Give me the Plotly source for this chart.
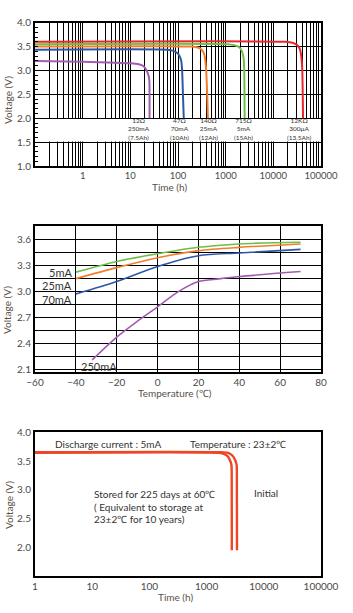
import math
import plotly.graph_objects as go

# ---------------- Chart 1: discharge curves vs time ----------------
c1_names = ["12Ω", "47Ω", "140Ω", "715Ω", "12KΩ"]
c1_colors = ["#a35bb0", "#2d57a5", "#f47d2c", "#6cbf45", "#e8272c"]
c1_x = [
    [0.1, 1, 5, 10, 15, 19, 22, 24, 25, 25.3],
    [0.1, 60, 80, 95, 108, 117, 122, 127, 132],
    [0.1, 200, 260, 310, 350, 370, 390, 410, 425],
    [0.1, 1100, 1500, 1900, 2200, 2380, 2450, 2500],
    [0.1, 18000, 25000, 32000, 36500, 39000, 40500, 42000],
]
c1_y = [
    [3.2, 3.18, 3.16, 3.15, 3.13, 3.09, 3.0, 2.9, 2.8, 2.0],
    [3.435, 3.435, 3.41, 3.37, 3.3, 3.2, 3.0, 2.5, 2.0],
    [3.5, 3.5, 3.48, 3.44, 3.36, 3.25, 3.0, 2.5, 2.0],
    [3.55, 3.55, 3.53, 3.49, 3.4, 3.25, 3.0, 2.0],
    [3.6, 3.6, 3.58, 3.53, 3.43, 3.25, 3.0, 2.0],
]
c1_label_x = [15, 110, 445, 2400, 34300]
c1_label_res = ["12Ω", "47Ω", "140Ω", "715Ω", "12KΩ"]
c1_label_cur = ["250mA", "70mA", "25mA", "5mA", "300μA"]
c1_label_cap = ["(7.5Ah)", "(10Ah)", "(12Ah)", "(15Ah)", "(13.5Ah)"]
c1_xticks = [1, 10, 100, 1000, 10000, 100000]
c1_yticks = [1.0, 1.5, 2.0, 2.5, 3.0, 3.5, 4.0]

# ---------------- Chart 2: voltage vs temperature ----------------
c2_names = ["5mA", "25mA", "70mA", "250mA"]
c2_colors = ["#6cbf45", "#f47d2c", "#2d57a5", "#a35bb0"]
c2_x = [
    [-40, -20, 0, 20, 40, 70],
    [-40, -20, 0, 20, 40, 70],
    [-40, -20, 0, 20, 40, 70],
    [-32, -20, -10, 0, 10, 20, 30, 40, 70],
]
c2_y = [
    [3.228, 3.351, 3.44, 3.514, 3.553, 3.572],
    [3.153, 3.28, 3.394, 3.476, 3.514, 3.553],
    [2.976, 3.12, 3.293, 3.417, 3.449, 3.49],
    [2.216, 2.479, 2.66, 2.828, 3.0, 3.119, 3.15, 3.177, 3.235],
]
c2_label_y = [3.223, 3.072, 2.917]
c2_xticks = [-60, -40, -20, 0, 20, 40, 60, 80]
c2_ygrid = [2.1, 2.25, 2.4, 2.55, 2.7, 2.85, 3.0, 3.15, 3.3, 3.45, 3.6]
c2_ylabels = ["2.1", "", "2.4", "", "2.7", "", "3.0", "", "3.3", "", "3.6"]

# ---------------- Chart 3: storage characteristics ----------------
c3_names = ["Stored", "Initial"]
c3_x = [
    [1, 1600, 1950, 2300, 2570, 2720, 2750, 2760],
    [1, 1800, 2300, 2800, 3150, 3350, 3380, 3400],
]
c3_y = [
    [3.645, 3.645, 3.63, 3.59, 3.51, 3.43, 3.2, 1.95],
    [3.655, 3.655, 3.645, 3.6, 3.52, 3.43, 3.2, 1.95],
]
c3_xticks = [1, 10, 100, 1000, 10000, 100000]
c3_yticks = [2.0, 2.5, 3.0, 3.5, 4.0]

FONT = "Lato"
TICKC = "#4a4a4a"
TITLEC = "#5a5048"
W, H = 353, 613

fig = go.Figure()

for xs, ys, c, n in zip(c1_x, c1_y, c1_colors, c1_names):
    fig.add_trace(go.Scatter(x=xs, y=ys, mode="lines", name=n, xaxis="x", yaxis="y",
                             line=dict(color=c, width=2, shape="spline", smoothing=0.6)))
for xs, ys, c, n in zip(c2_x, c2_y, c2_colors, c2_names):
    fig.add_trace(go.Scatter(x=xs, y=ys, mode="lines", name=n, xaxis="x2", yaxis="y2",
                             line=dict(color=c, width=1.6, shape="spline", smoothing=0.8)))
for xs, ys, n in zip(c3_x, c3_y, c3_names):
    fig.add_trace(go.Scatter(x=xs, y=ys, mode="lines", name=n, xaxis="x3", yaxis="y3",
                             line=dict(color="#ee4526", width=2.4, shape="spline", smoothing=0.6)))

xdom = [35 / W, 321 / W]
def ydom(top, bot):
    return [1 - bot / H, 1 - top / H]

# minor gridline values for log chart 1
c1_grid = []
for e in range(-1, 5):
    for m in range(1, 10):
        c1_grid.append(m * 10 ** e)
c1_grid.append(100000)
c1_gridtext = [str(v) if v in c1_xticks else "" for v in c1_grid]

common_tick = dict(family=FONT, size=10, color=TICKC)

fig.update_layout(
    width=W, height=H, margin=dict(l=0, r=0, t=0, b=0, autoexpand=False),
    paper_bgcolor="white", plot_bgcolor="white", showlegend=False,
    font=dict(family=FONT, color=TICKC),
    xaxis=dict(domain=xdom, anchor="y", type="log", range=[-1, 5], automargin=False,
               tickvals=c1_grid, ticktext=c1_gridtext, showgrid=True, gridcolor="black",
               gridwidth=1.2, showline=True, linecolor="black", linewidth=2, mirror=True,
               ticks="", tickfont=dict(family=FONT, size=9.5, color=TICKC), zeroline=False),
    yaxis=dict(domain=ydom(22.7, 166), anchor="x", range=[1.0, 4.0], tickvals=c1_yticks,
               automargin=False,
               ticktext=["%.1f" % v for v in c1_yticks], showgrid=True, gridcolor="black",
               gridwidth=1.2, showline=True, linecolor="black", linewidth=2, mirror=True,
               ticks="", tickfont=common_tick, zeroline=False,
               minor=dict(dtick=0.1, ticks="inside", ticklen=3, tickcolor="black", showgrid=False)),
    xaxis2=dict(domain=xdom, anchor="y2", range=[-60, 80], tickvals=c2_xticks, automargin=False,
                showgrid=True, gridcolor="black", gridwidth=1.2, showline=True, linecolor="black",
                linewidth=2, mirror=True, ticks="", tickfont=common_tick, zeroline=False),
    yaxis2=dict(domain=ydom(226, 371.7), anchor="x2", range=[2.08, 3.76], tickvals=c2_ygrid,
                automargin=False,
                ticktext=c2_ylabels, showgrid=True, gridcolor="black", gridwidth=1.2,
                showline=True, linecolor="black", linewidth=2, mirror=True, ticks="",
                tickfont=common_tick, zeroline=False),
    xaxis3=dict(domain=xdom, anchor="y3", type="log", range=[0, 5], tickvals=c3_xticks,
                automargin=False,
                ticktext=[str(v) for v in c3_xticks], showgrid=False, showline=True,
                linecolor="black", linewidth=2, mirror=True, ticks="", tickfont=common_tick,
                zeroline=False),
    yaxis3=dict(domain=ydom(432.3, 576), anchor="x3", range=[1.5, 4.0], tickvals=c3_yticks,
                automargin=False,
                ticktext=["%.1f" % v for v in c3_yticks], showgrid=False, showline=True,
                linecolor="black", linewidth=2, mirror=True, ticks="", tickfont=common_tick,
                zeroline=False),
)

# white band behind chart-1 labels (between gridlines and traces)
fig.add_shape(type="rect", xref="x", yref="y", x0=0.1, x1=100000, y0=1.515, y1=1.985,
              fillcolor="white", line=dict(width=0), layer="between")

ann = []
lab_font = dict(family=FONT, size=6.5, color="#333")
for lx, a, b, c in zip(c1_label_x, c1_label_res, c1_label_cur, c1_label_cap):
    ann.append(dict(x=math.log10(lx), y=1.78, xref="x", yref="y",
                    text=f"{a}<br>{b}<br>{c}", showarrow=False, align="center",
                    font=lab_font, xanchor="center", yanchor="middle"))
for t, ly in zip(c2_names[:3], c2_label_y):
    ann.append(dict(x=-40.8, y=ly, xref="x2", yref="y2", text=t, showarrow=False,
                    xanchor="right", font=dict(family=FONT, size=11, color="#333")))
ann.append(dict(x=-38.5, y=2.142, xref="x2", yref="y2", text=c2_names[3], showarrow=False,
                xanchor="left", font=dict(family=FONT, size=11, color="#333")))

# axis titles
def ptitle(x, y, text, angle=0):
    return dict(x=x / W, y=1 - y / H, xref="paper", yref="paper", text=text, showarrow=False,
                xanchor="center", yanchor="middle",
                textangle=angle, font=dict(family=FONT, size=10, color=TITLEC))
ann.append(ptitle(8, 100, "Voltage (V)", -90))
ann.append(ptitle(169, 187, "Time (h)"))
ann.append(ptitle(7, 310, "Voltage (V)", -90))
ann.append(ptitle(175, 393, "Temperature (℃)"))
ann.append(ptitle(9, 505, "Voltage (V)", -90))
ann.append(ptitle(175, 597, "Time (h)"))

# chart-3 texts
def t3(x, y, text, anchor="left"):
    return dict(x=x / W, y=1 - y / H, xref="paper", yref="paper", text=text, showarrow=False,
                xanchor=anchor, yanchor="middle",
                font=dict(family=FONT, size=10, color="#333"), align="left")
ann.append(t3(53, 443.7, "Discharge current : 5mA"))
ann.append(t3(188, 443.7, "Temperature : 23±2℃"))
ann.append(t3(91.7, 494, "Stored for 225 days at 60℃"))
ann.append(t3(91.7, 506.7, "( Equivalent to storage at"))
ann.append(t3(91.7, 518.5, "23±2℃ for 10 years)"))
ann.append(t3(252, 492.7, "Initial"))

fig.update_layout(annotations=ann)
fig.write_html("out.html")
